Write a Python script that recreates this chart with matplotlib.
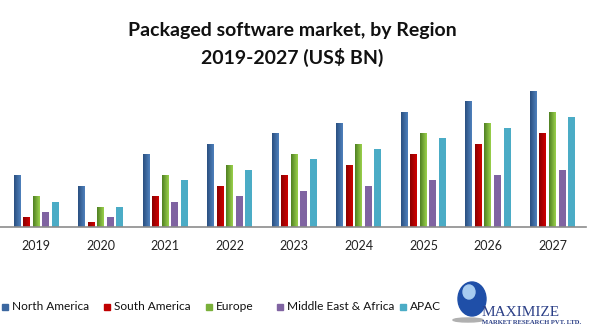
import numpy as np
import matplotlib.pyplot as plt
from matplotlib.colors import LinearSegmentedColormap
from matplotlib.patches import Rectangle, Ellipse

years = ['2019', '2020', '2021', '2022', '2023', '2024', '2025', '2026', '2027']
regions = ['North America', 'South America', 'Europe', 'Middle East & Africa', 'APAC']

north_america = [5.2, 4.1, 7.3, 8.3, 9.4, 10.4, 11.5, 12.6, 13.6]
south_america = [1.0, 0.5, 3.1, 4.1, 5.2, 6.2, 7.3, 8.3, 9.4]
europe = [3.1, 2.0, 5.2, 6.2, 7.3, 8.3, 9.4, 10.4, 11.5]
middle_east_africa = [1.5, 1.0, 2.5, 3.1, 3.6, 4.1, 4.7, 5.2, 5.7]
apac = [2.5, 2.0, 4.7, 5.7, 6.8, 7.8, 8.9, 9.9, 11.0]

series = [north_america, south_america, europe, middle_east_africa, apac]
# (dark edge, light edge, legend colour) for the shaded bars
shades = [('#2a4f80', '#4f81bd', '#3b67a0'),
          ('#8a0000', '#d00000', '#c00000'),
          ('#4f7f22', '#9bd24c', '#7ab03a'),
          ('#8064a2', '#8064a2', '#8064a2'),
          ('#4bacc6', '#4bacc6', '#4bacc6')]

plt.rcParams['font.family'] = ['Lato', 'DejaVu Sans']

fig = plt.figure(figsize=(5.92, 3.31), dpi=100)
ax = fig.add_axes([0.0, 0.314, 0.99, 0.444])

x = np.arange(len(years))
pitch = 0.148
width = 0.108
grad = np.linspace(0, 1, 32).reshape(1, -1)

for i, vals in enumerate(series):
    cmap = LinearSegmentedColormap.from_list('shade%d' % i, shades[i][:2])
    offs = (i - 2) * pitch
    for xi, v in zip(x, vals):
        x0 = xi + offs - width / 2
        ax.imshow(grad, cmap=cmap, extent=[x0, x0 + width, 0, v],
                  aspect='auto', interpolation='bicubic', zorder=2)

ax.set_xlim(-0.56, 8.52)
ax.set_ylim(0, 14.7)
ax.set_xticks(x)
ax.set_xticklabels(years, fontsize=9, color='#222222')
ax.tick_params(axis='x', length=0, pad=9)
ax.set_yticks([])
for side in ['left', 'right', 'top']:
    ax.spines[side].set_visible(False)
ax.spines['bottom'].set_color('#8c8c8c')
ax.spines['bottom'].set_linewidth(1.2)

fig.text(0.494, 0.908, 'Packaged software market, by Region', ha='center', va='center',
         fontsize=14, fontweight='bold', color='#111111')
fig.text(0.494, 0.827, '2019-2027 (US$ BN)', ha='center', va='center',
         fontsize=14, fontweight='bold', color='#111111')

# legend row along the bottom
legend_x = [2, 104, 206, 277, 400]
for name, lx, sh in zip(regions, legend_x, shades):
    fig.patches.append(Rectangle((lx / 592, 1 - 310 / 331), 6 / 592, 6 / 331,
                                 transform=fig.transFigure, color=sh[2]))
    fig.text((lx + 10) / 592, 1 - 307 / 331, name, ha='left', va='center',
             fontsize=8.6, color='#111111')

# company badge
fig.patches.append(Ellipse((472 / 592, 1 - 299 / 331), 28 / 592, 34 / 331,
                           transform=fig.transFigure, color='#1f4fa8'))
fig.patches.append(Ellipse((469 / 592, 1 - 292 / 331), 12 / 592, 14 / 331,
                           transform=fig.transFigure, color='#a8ccf0'))
fig.patches.append(Ellipse((468 / 592, 1 - 320 / 331), 30 / 592, 4 / 331,
                           transform=fig.transFigure, color='#b0b0b0'))
fig.text(482 / 592, 1 - 313 / 331, 'MAXIMIZE', ha='left', va='center',
         fontsize=11, family='Liberation Serif', color='#2b3f86')
fig.text(482 / 592, 1 - 323 / 331, 'MARKET RESEARCH PVT. LTD.', ha='left', va='center',
         fontsize=4.8, family='Liberation Serif', fontweight='bold', color='#2b3f86')

fig.savefig('out.png', dpi=100)
